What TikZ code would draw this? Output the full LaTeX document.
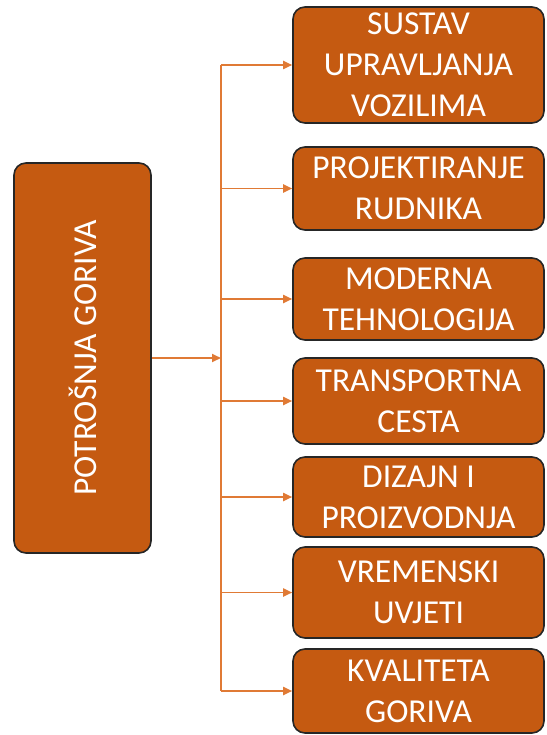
\documentclass[tikz,border=0pt]{standalone}
\usepackage{fontspec}
\setmainfont{Carlito}
\usepackage{graphicx}
\usetikzlibrary{
	arrows.meta,
	positioning
}
\definecolor{boxfill}{HTML}{C55A11}
\definecolor{linkorange}{HTML}{E07A35}
\tikzset{
	CF-Node/.style={rectangle,draw=black!85,line width=1.6pt,fill=boxfill,text=white,align=center,rounded corners=12pt,inner sep=0pt,font=\fontsize{33.5}{41}\selectfont},
	CF-Arrow/.style={-{Triangle[length=9pt,width=8pt]},linkorange,line width=1.8pt},
	CF-Line/.style={linkorange,line width=1.8pt}
}

\begin{document}
\begin{tikzpicture}[x=1pt,y=-1pt]
	\useasboundingbox (0,0) rectangle (546,735);
	% main cause
	\node[CF-Node,minimum width=137pt,minimum height=390pt] (main) at (82.5,358)
		{\rotatebox{90}{POTROŠNJA GORIVA}};
	\coordinate (trunk) at (221,358);
	% factors
	\foreach \name/\yc/\h/\txt in {
		b1/65/116/{SUSTAV\\UPRAVLJANJA\\VOZILIMA},
		b2/188.5/83/{PROJEKTIRANJE\\RUDNIKA},
		b3/299/82/{MODERNA\\TEHNOLOGIJA},
		b4/401/86/{TRANSPORTNA\\CESTA},
		b5/497/80/{DIZAJN I\\PROIZVODNJA},
		b6/592.5/91/{VREMENSKI\\UVJETI},
		b7/691/84/{KVALITETA\\GORIVA}} {
		\node[CF-Node,minimum width=251pt,minimum height=\h pt] (\name) at (418.5,\yc) {\txt};
		\draw[CF-Arrow] (trunk |- \name.west) -- (\name.west);
	}
	\draw[CF-Line] (trunk |- b1.west) -- (trunk |- b7.west);
	\draw[CF-Arrow] (main.east) -- (trunk);
\end{tikzpicture}
\end{document}
